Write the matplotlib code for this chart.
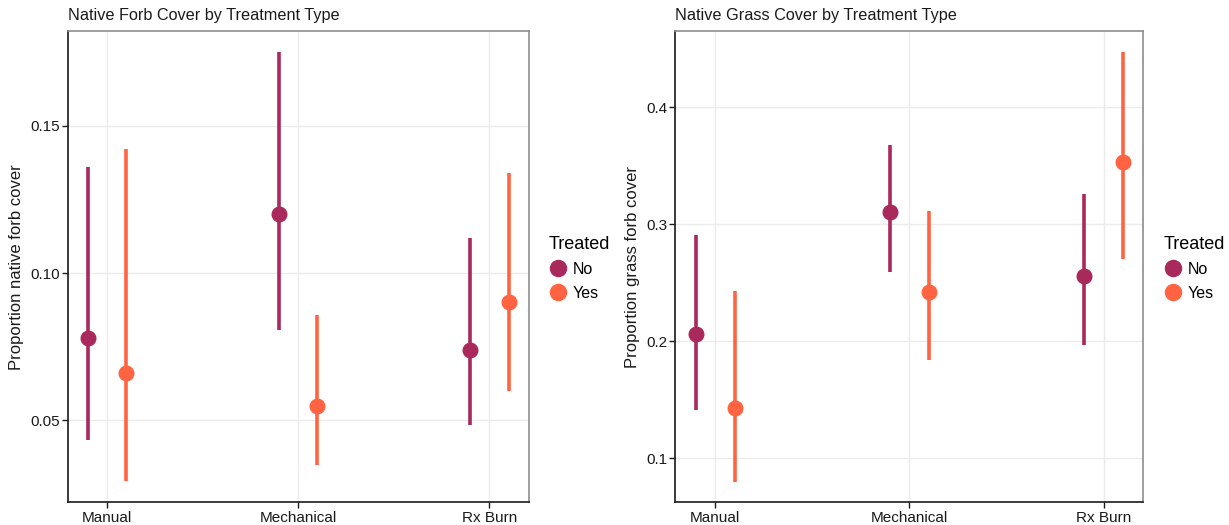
import matplotlib.pyplot as plt
import numpy as np

plt.rcParams['font.family'] = ['Liberation Sans', 'DejaVu Sans']

# Datos: estimaciones y límites de los intervalos por tratamiento
tratamientos = ["Manual", "Mechanical", "Rx Burn"]
grupos = ["No", "Yes"]
colores = {"No": "#A9295C", "Yes": "#FF6342"}

forb_est = {"No": [0.078, 0.120, 0.074], "Yes": [0.066, 0.055, 0.090]}
forb_low = {"No": [0.0435, 0.0807, 0.0483], "Yes": [0.0293, 0.0350, 0.0600]}
forb_high = {"No": [0.1358, 0.1751, 0.1119], "Yes": [0.1421, 0.0856, 0.1340]}

grass_est = {"No": [0.206, 0.310, 0.256], "Yes": [0.143, 0.242, 0.353]}
grass_low = {"No": [0.141, 0.259, 0.197], "Yes": [0.080, 0.184, 0.270]}
grass_high = {"No": [0.291, 0.368, 0.326], "Yes": [0.243, 0.311, 0.447]}

forb_ticks = [0.05, 0.10, 0.15]
grass_ticks = [0.1, 0.2, 0.3, 0.4]


def dibujar_panel(ax, est, low, high, yticks, ylim, fmt, titulo, ylabel):
    x = np.arange(len(tratamientos))
    desplaz = {"No": -0.1, "Yes": 0.1}
    for g in grupos:
        xs = x + desplaz[g]
        ax.vlines(xs, low[g], high[g], colors=colores[g], linewidth=2.6, zorder=3)
        ax.plot(xs, est[g], 'o', color=colores[g], markersize=10.5, zorder=4,
                label=g, linestyle='none')

    ax.set_xlim(-0.205, 2.205)
    ax.set_ylim(*ylim)
    ax.set_xticks(x)
    ax.set_xticklabels(tratamientos)
    ax.set_yticks(yticks)
    ax.set_yticklabels([fmt.format(t) for t in yticks])
    ax.grid(True, color='#EBEBEB', linewidth=1.0, zorder=0)
    ax.set_axisbelow(True)

    for lado in ['top', 'right']:
        ax.spines[lado].set_color('#8C8C8C')
        ax.spines[lado].set_linewidth(1.2)
    for lado in ['left', 'bottom']:
        ax.spines[lado].set_color('#1A1A1A')
        ax.spines[lado].set_linewidth(1.2)

    ax.tick_params(axis='both', length=4, width=1.0, color='#1A1A1A',
                   labelsize=11, labelcolor='#1A1A1A', pad=2)
    ax.set_title(titulo, loc='left', fontsize=11.7, color='#1A1A1A', pad=8)
    ax.set_ylabel(ylabel, fontsize=12, color='#1A1A1A', labelpad=4)

    ax.legend(title="Treated", loc='center left', bbox_to_anchor=(1.03, 0.497),
              frameon=False, fontsize=11.5, title_fontsize=13,
              handletextpad=0.3, labelspacing=0.55, borderaxespad=0.0,
              alignment='left', markerscale=1.1, handlelength=1.2)


fig = plt.figure(figsize=(12.29, 5.25), dpi=100)
fig.patch.set_facecolor('#FFFFFF')

ax1 = fig.add_axes([0.0553, 0.043, 0.3748, 0.897])
ax2 = fig.add_axes([0.5496, 0.043, 0.3807, 0.897])

dibujar_panel(ax1, forb_est, forb_low, forb_high, forb_ticks, (0.0222, 0.1819), "{:.2f}",
              "Native Forb Cover by Treatment Type", "Proportion native forb cover")
dibujar_panel(ax2, grass_est, grass_low, grass_high, grass_ticks, (0.0623, 0.4646), "{:.1f}",
              "Native Grass Cover by Treatment Type", "Proportion grass forb cover")

fig.savefig("out.png", dpi=100)
